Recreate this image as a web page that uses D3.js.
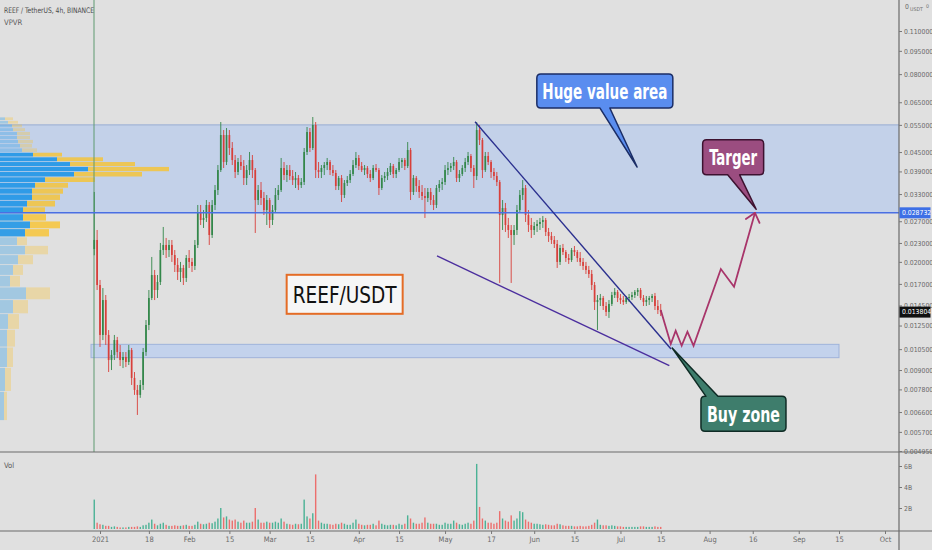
<!DOCTYPE html>
<html>
<head>
<meta charset="utf-8">
<script src="https://cdn.jsdelivr.net/npm/d3@7"></script>
<style>
  html, body { margin: 0; padding: 0; background: #e0e0e0; }
  svg { display: block; }
</style>
</head>
<body>
<div id="chart"></div>
<script>
// ---- data ----
var first_candle_day = "2020-12-30";
// daily candles [open, high, low, close] in USDT
var candles = [
  [0.02200,0.03351,0.02100,0.02351],[0.02351,0.02531,0.01625,0.01686],[0.01686,0.01750,0.01067,0.01166],
  [0.01166,0.01649,0.01123,0.01509],[0.01509,0.01566,0.01083,0.01166],[0.01166,0.01209,0.00887,0.00969],
  [0.00969,0.01043,0.00900,0.01006],[0.01006,0.01166,0.00969,0.01123],[0.01123,0.01149,0.00984,0.01028],
  [0.01028,0.01083,0.00927,0.00969],[0.00969,0.01028,0.00913,0.00991],[0.00991,0.01028,0.00920,0.00955],
  [0.00955,0.01083,0.00934,0.01043],[0.01043,0.01059,0.00806,0.00849],[0.00849,0.00887,0.00749,0.00777],
  [0.00777,0.00806,0.00646,0.00749],[0.00749,0.00836,0.00733,0.00806],[0.00806,0.01059,0.00777,0.01028],
  [0.01028,0.01302,0.00999,0.01255],[0.01255,0.01625,0.01209,0.01532],[0.01532,0.02074,0.01509,0.01815],
  [0.01815,0.01884,0.01509,0.01625],[0.01625,0.01815,0.01532,0.01724],[0.01724,0.02300,0.01686,0.02183],
  [0.02183,0.02588,0.02104,0.02266],[0.02266,0.02386,0.02058,0.02183],[0.02183,0.02351,0.02074,0.02266],
  [0.02266,0.02351,0.01999,0.02104],[0.02104,0.02183,0.01856,0.01955],[0.01955,0.02058,0.01750,0.01856],
  [0.01856,0.01999,0.01724,0.01912],[0.01912,0.01955,0.01686,0.01776],[0.01776,0.02104,0.01724,0.02058],
  [0.02058,0.02183,0.01912,0.01999],[0.01999,0.02058,0.01856,0.01941],[0.01941,0.02351,0.01884,0.02266],
  [0.02266,0.03044,0.02216,0.02891],[0.02891,0.03044,0.02626,0.02725],[0.02725,0.02933,0.02569,0.02766],
  [0.02766,0.03158,0.02685,0.03044],[0.03044,0.03112,0.02266,0.02439],[0.02439,0.03158,0.02386,0.03044],
  [0.03044,0.03528,0.02933,0.03400],[0.03400,0.04089,0.03277,0.03941],[0.03941,0.05618,0.03884,0.05103],
  [0.05103,0.05295,0.04000,0.04181],[0.04181,0.05374,0.04089,0.05103],[0.05103,0.05295,0.04403,0.04637],
  [0.04637,0.04846,0.04089,0.04243],[0.04243,0.04403,0.03715,0.03884],[0.03884,0.04307,0.03798,0.04181],
  [0.04181,0.04403,0.03941,0.04059],[0.04059,0.04243,0.03528,0.03715],[0.03715,0.04089,0.03528,0.03941],
  [0.03941,0.04502,0.03798,0.04243],[0.04243,0.04403,0.03715,0.03941],[0.03941,0.04000,0.02476,0.03158],
  [0.03158,0.03528,0.03044,0.03400],[0.03400,0.03607,0.03044,0.03206],[0.03206,0.03351,0.02827,0.02933],
  [0.02933,0.03277,0.02626,0.03158],[0.03158,0.03206,0.02569,0.02725],[0.02725,0.03044,0.02626,0.02933],
  [0.02933,0.03451,0.02891,0.03277],[0.03277,0.03528,0.03158,0.03400],[0.03400,0.04307,0.03351,0.04000],
  [0.04000,0.04181,0.03660,0.03798],[0.03798,0.04089,0.03607,0.03941],[0.03941,0.04089,0.03660,0.03770],
  [0.03770,0.03941,0.03528,0.03660],[0.03660,0.03884,0.03451,0.03715],[0.03715,0.03798,0.03400,0.03528],
  [0.03528,0.03715,0.03451,0.03607],[0.03607,0.04637,0.03528,0.04502],[0.04502,0.05414,0.04403,0.05218],
  [0.05218,0.05374,0.04502,0.04637],[0.04637,0.05829,0.04568,0.05494],[0.05494,0.05618,0.03715,0.03941],
  [0.03941,0.04181,0.03715,0.03884],[0.03884,0.04089,0.03715,0.04000],[0.04000,0.04181,0.03798,0.04089],
  [0.04089,0.04307,0.03941,0.04181],[0.04181,0.04243,0.03798,0.03941],[0.03941,0.04089,0.03770,0.03855],
  [0.03855,0.03941,0.03400,0.03502],[0.03502,0.03770,0.03400,0.03715],[0.03715,0.03798,0.03112,0.03277],
  [0.03277,0.03660,0.03206,0.03581],[0.03581,0.03770,0.03502,0.03660],[0.03660,0.03941,0.03581,0.03827],
  [0.03827,0.04243,0.03770,0.04089],[0.04089,0.04502,0.04000,0.04307],[0.04307,0.04403,0.03941,0.04059],
  [0.04059,0.04181,0.03884,0.03941],[0.03941,0.04089,0.03798,0.04000],[0.04000,0.04059,0.03715,0.03827],
  [0.03827,0.03941,0.03607,0.03715],[0.03715,0.04089,0.03660,0.04000],[0.04000,0.04120,0.03884,0.03941],
  [0.03941,0.04000,0.03277,0.03451],[0.03451,0.03798,0.03400,0.03715],[0.03715,0.03884,0.03607,0.03770],
  [0.03770,0.04000,0.03660,0.03884],[0.03884,0.04151,0.03798,0.04059],[0.04059,0.04120,0.03715,0.03827],
  [0.03827,0.04000,0.03715,0.03941],[0.03941,0.04307,0.03884,0.04181],[0.04181,0.04307,0.04000,0.04243],
  [0.04243,0.04307,0.03941,0.04059],[0.04059,0.04846,0.04000,0.04568],[0.04568,0.04637,0.03158,0.03351],
  [0.03351,0.03798,0.03277,0.03715],[0.03715,0.03770,0.03351,0.03502],[0.03502,0.03660,0.03206,0.03351],
  [0.03351,0.03528,0.03158,0.03253],[0.03253,0.03451,0.02766,0.03206],[0.03206,0.03451,0.03112,0.03351],
  [0.03351,0.03451,0.03044,0.03158],[0.03158,0.03277,0.02933,0.03044],[0.03044,0.03528,0.02977,0.03451],
  [0.03451,0.03660,0.03351,0.03554],[0.03554,0.03715,0.03400,0.03607],[0.03607,0.04089,0.03528,0.03941],
  [0.03941,0.04181,0.03798,0.04000],[0.04000,0.04151,0.03884,0.04059],[0.04059,0.04339,0.03941,0.04181],
  [0.04181,0.04243,0.03607,0.03715],[0.03715,0.03941,0.03607,0.03827],[0.03827,0.04089,0.03770,0.04000],
  [0.04000,0.04307,0.03884,0.04181],[0.04181,0.04502,0.04089,0.04371],[0.04371,0.04436,0.03884,0.04000],
  [0.04000,0.04089,0.03451,0.03770],[0.03770,0.05618,0.03660,0.05295],[0.05295,0.05494,0.04740,0.04918],
  [0.04918,0.04992,0.03715,0.03941],[0.03941,0.04502,0.03884,0.04371],[0.04371,0.04502,0.04089,0.04181],
  [0.04181,0.04243,0.03715,0.03884],[0.03884,0.04000,0.03660,0.03770],[0.03770,0.03884,0.03502,0.03607],
  [0.03607,0.03660,0.01712,0.02827],[0.02827,0.03158,0.02531,0.02977],[0.02977,0.03090,0.02494,0.02626],
  [0.02626,0.02766,0.02386,0.02531],[0.02531,0.02626,0.01712,0.02439],[0.02439,0.02626,0.02266,0.02531],
  [0.02531,0.03044,0.02439,0.02933],[0.02933,0.03400,0.02891,0.03277],[0.03277,0.03660,0.03158,0.03451],
  [0.03451,0.03528,0.02685,0.02827],[0.02827,0.02933,0.02494,0.02626],[0.02626,0.02766,0.02386,0.02531],
  [0.02531,0.02685,0.02439,0.02607],[0.02607,0.02725,0.02494,0.02646],[0.02646,0.02766,0.02531,0.02685],
  [0.02685,0.02807,0.02569,0.02725],[0.02725,0.02766,0.02421,0.02494],[0.02494,0.02569,0.02317,0.02421],
  [0.02421,0.02494,0.02283,0.02351],[0.02351,0.02421,0.02216,0.02283],[0.02283,0.02351,0.01912,0.01999],
  [0.01999,0.02266,0.01955,0.02216],[0.02216,0.02283,0.02104,0.02151],[0.02151,0.02183,0.01999,0.02058],
  [0.02058,0.02120,0.01970,0.02028],[0.02028,0.02216,0.01999,0.02183],[0.02183,0.02249,0.02089,0.02151],
  [0.02151,0.02183,0.01999,0.02058],[0.02058,0.02151,0.01941,0.01999],[0.01999,0.02058,0.01884,0.01941],
  [0.01941,0.01999,0.01829,0.01884],[0.01884,0.01941,0.01776,0.01829],[0.01829,0.01884,0.01625,0.01686],
  [0.01686,0.01724,0.01402,0.01487],[0.01487,0.01566,0.01209,0.01509],[0.01509,0.01578,0.01444,0.01532],
  [0.01532,0.01555,0.01402,0.01444],[0.01444,0.01487,0.01341,0.01382],[0.01382,0.01509,0.01322,0.01466],
  [0.01466,0.01602,0.01444,0.01566],[0.01566,0.01649,0.01532,0.01602],[0.01602,0.01625,0.01487,0.01532],
  [0.01532,0.01578,0.01466,0.01509],[0.01509,0.01555,0.01455,0.01487],[0.01487,0.01555,0.01466,0.01532],
  [0.01532,0.01578,0.01487,0.01543],[0.01543,0.01602,0.01509,0.01566],[0.01566,0.01625,0.01532,0.01602],
  [0.01602,0.01649,0.01555,0.01625],[0.01625,0.01649,0.01509,0.01532],[0.01532,0.01566,0.01444,0.01487],
  [0.01487,0.01555,0.01444,0.01509],[0.01509,0.01555,0.01455,0.01532],[0.01532,0.01578,0.01487,0.01555],
  [0.01555,0.01590,0.01402,0.01444],[0.01444,0.01509,0.01361,0.01402],[0.01402,0.01466,0.01341,0.01380]
];
// volume per candle, billions of REEF
var volumes = [
  2.8,0.6,0.45,0.4,0.3,0.3,0.2,0.25,0.2,0.15,
  0.15,0.15,0.2,0.2,0.2,0.25,0.2,0.35,0.4,0.6,
  0.9,0.5,0.35,0.5,0.6,0.4,0.3,0.3,0.35,0.3,
  0.3,0.35,0.4,0.3,0.3,0.4,0.7,0.5,0.45,0.5,
  0.6,0.55,0.7,1.0,2.0,1.1,1.2,0.9,0.8,0.9,
  0.7,0.6,0.8,0.6,0.6,0.7,2.0,0.9,0.6,0.6,
  0.7,0.6,0.6,0.7,0.6,1.0,0.7,0.5,0.45,0.4,
  0.5,0.45,0.5,2.8,1.2,1.0,1.5,5.2,0.8,0.6,
  0.5,0.5,0.45,0.4,0.5,0.45,0.6,0.5,0.4,0.4,
  0.6,0.9,0.5,0.4,0.35,0.4,0.4,0.5,0.35,0.8,
  0.5,0.4,0.35,0.4,0.4,0.35,0.5,0.4,0.5,1.3,
  1.0,0.6,0.5,0.5,0.6,1.1,0.6,0.5,0.5,0.5,
  0.4,0.4,0.6,0.5,0.5,0.8,0.6,0.45,0.4,0.5,
  0.6,0.5,0.8,6.2,2.1,1.0,0.8,0.6,0.6,0.5,
  0.6,1.7,1.0,0.8,0.7,1.3,0.8,1.0,1.7,1.6,
  0.9,0.7,0.6,0.5,0.5,0.45,0.4,0.45,0.4,0.35,
  0.35,0.5,0.45,0.35,0.3,0.3,0.3,0.25,0.25,0.3,
  0.25,0.25,0.3,0.4,0.6,0.9,0.4,0.35,0.35,0.3,
  0.35,0.3,0.25,0.25,0.2,0.2,0.2,0.2,0.2,0.2,
  0.25,0.25,0.2,0.2,0.2,0.25,0.2,0.2
];

// visible range volume profile, rows from low to high price
var vp_price_range = [0.0062, 0.0583];
var vp_up = [4,5,7,7,8,13,26,10,13,18,25,17,25,30,23,23,27,32,32,35,45,74,88,70,57,33,22,20,18,17,17,13,12,8,5];
var vp_down = [3,6,6,8,11,15,24,10,10,15,23,10,24,30,23,22,28,28,31,33,50,68,81,65,46,29,15,12,15,13,13,12,10,10,8];
var vp_value_rows = [12, 25];

var price_ticks = [0.11, 0.095, 0.08, 0.065, 0.055, 0.045, 0.039, 0.033, 0.027, 0.023, 0.02, 0.017,
                   0.0145, 0.0125, 0.0105, 0.009, 0.0078, 0.0066, 0.0057, 0.00495];
var time_ticks = ["2021-01-01","2021-01-18","2021-02-01","2021-02-15","2021-03-01","2021-03-15",
                  "2021-04-01","2021-04-15","2021-05-01","2021-05-17","2021-06-01","2021-06-15",
                  "2021-07-01","2021-07-15","2021-08-01","2021-08-16","2021-09-01","2021-09-15","2021-10-01"];
var time_labels = ["2021","18","Feb","15","Mar","15","Apr","15","May","17","Jun","15","Jul","15","Aug","16","Sep","15","Oct"];
var vol_ticks = [2, 4, 6];

var last_price = 0.013804;
var target_level = 0.028732;
var listing_time = "2020-12-29T22:00";
var value_zone = [0.055, 0.028732];
var buy_zone_dates = ["2020-12-28T21:00", "2021-09-15T00:00"];
var buy_zone_prices = [0.01088, 0.00986];

// drawings: [time, price]
var upper_line = [["2021-05-11T10:00", 0.05631], ["2021-07-18T14:00", 0.01051]];
var lower_line = [["2021-04-28T05:00", 0.02089], ["2021-07-18T00:00", 0.00929]];
var projection = [["2021-07-15T00:00", 0.01402], ["2021-07-18T12:00", 0.01091], ["2021-07-20T05:00", 0.01203],
                  ["2021-07-22T07:00", 0.01077], ["2021-07-24T07:00", 0.01194], ["2021-07-26T10:00", 0.01077],
                  ["2021-08-04T22:00", 0.01897], ["2021-08-09T12:00", 0.01665], ["2021-08-16T19:00", 0.02873]];
var callout_texts = ["Huge value area", "Targer", "Buy zone"];
var callout_boxes = [["2021-06-01T22:00", 0.0801], ["2021-07-29T14:00", 0.04925], ["2021-07-29T00:00", 0.00741]];
var callout_tips = [["2021-07-06T19:00", 0.0403], ["2021-08-17T05:00", 0.0295], ["2021-07-19T00:00", 0.01059]];
var label_text = "REEF/USDT";
var label_anchor = ["2021-03-06T22:00", 0.01818];

// ---- layout ----
var width = 932, height = 550;
var axis_x = 899;
var price_pane = {top: 0, bottom: 452};
var vol_pane = {top: 452, bottom: 531};
var narrow = "'Liberation Sans Narrow','DejaVu Sans Condensed','Arial Narrow',sans-serif";

var callout_style = [
    {w: 136, h: 34, fill: "#5a8def", stroke: "#1b2d66", side: "bottom", base: [63, 73], size: 21, len: 125},
    {w: 61, h: 35, fill: "#9b4d80", stroke: "#3d1230", side: "bottom", base: [25, 37], size: 21, len: 48},
    {w: 85, h: 35, fill: "#3e7d6c", stroke: "#0f2b25", side: "top", base: [5, 17], size: 22, len: 73}
];

var parse_day = d3.utcParse("%Y-%m-%d");
var parse_time = d3.utcParse("%Y-%m-%dT%H:%M");
function to_date(s){ return s.length > 10 ? parse_time(s) : parse_day(s); }

var x = d3.scaleUtc()
    .domain([to_date("2021-01-01"), to_date("2021-10-01")])
    .range([100, 885]);
var y = d3.scaleLog()
    .domain([0.11, 0.00495])
    .range([31, 451]);
var y_vol = d3.scaleLinear()
    .domain([0, 6])
    .range([529, 466]);

var svg = d3.select("#chart").append("svg")
    .attr("width", width)
    .attr("height", height)
    .style("font-family", narrow);

svg.append("rect").attr("width", width).attr("height", height).attr("fill", "#e0e0e0");

var defs = svg.append("defs");
defs.append("clipPath").attr("id", "clip_price").append("rect")
    .attr("x", 0).attr("y", price_pane.top).attr("width", axis_x).attr("height", price_pane.bottom - price_pane.top);
defs.append("clipPath").attr("id", "clip_vol").append("rect")
    .attr("x", 0).attr("y", vol_pane.top).attr("width", axis_x).attr("height", vol_pane.bottom - vol_pane.top);

var price_g = svg.append("g").attr("clip-path", "url(#clip_price)");

// value area rectangle
price_g.append("rect")
    .attr("x", 0).attr("width", axis_x)
    .attr("y", y(value_zone[0]))
    .attr("height", y(value_zone[1]) - y(value_zone[0]))
    .attr("fill", "#c3d1e9");
price_g.append("line")
    .attr("x1", 0).attr("x2", axis_x)
    .attr("y1", y(value_zone[0])).attr("y2", y(value_zone[0]))
    .attr("stroke", "#a3b5d6").attr("stroke-width", 1.2);

// buy zone rectangle
var bz_x0 = x(to_date(buy_zone_dates[0])), bz_x1 = x(to_date(buy_zone_dates[1]));
price_g.append("rect")
    .attr("x", bz_x0).attr("width", bz_x1 - bz_x0)
    .attr("y", y(buy_zone_prices[0]))
    .attr("height", y(buy_zone_prices[1]) - y(buy_zone_prices[0]))
    .attr("fill", "#c3d2ec")
    .attr("stroke", "#9fb3da").attr("stroke-width", 1);

// volume profile
var vp_rows = vp_up.length;
var vp_step = (vp_price_range[1] - vp_price_range[0]) / vp_rows;
var x_vp = d3.scaleLinear()
    .domain([0, d3.max(vp_up, function(u, i){ return u + vp_down[i]; })])
    .range([0, 169]);

var vp_g = price_g.append("g");
vp_up.forEach(function(u, i){
    var lo = vp_price_range[0] + vp_step * i;
    var top = y(lo + vp_step), bot = y(lo);
    var in_va = i >= vp_value_rows[0] && i <= vp_value_rows[1];
    var h = Math.max(bot - top - 0.8, 0.6);
    vp_g.append("rect")
        .attr("x", 0).attr("y", top + 0.4)
        .attr("width", x_vp(u)).attr("height", h)
        .attr("fill", in_va ? "rgba(21,146,230,0.85)" : "rgba(21,146,230,0.3)");
    vp_g.append("rect")
        .attr("x", x_vp(u)).attr("y", top + 0.4)
        .attr("width", x_vp(vp_down[i])).attr("height", h)
        .attr("fill", in_va ? "rgba(251,193,35,0.75)" : "rgba(251,193,35,0.3)");
});

// listing vertical line
price_g.append("line")
    .attr("x1", x(to_date(listing_time))).attr("x2", x(to_date(listing_time)))
    .attr("y1", price_pane.top).attr("y2", price_pane.bottom)
    .attr("stroke", "#5f9a70").attr("stroke-width", 1);

// candles
var start = to_date(first_candle_day);
var candle_data = candles.map(function(c, i){
    return {date: d3.utcDay.offset(start, i), o: c[0], h: c[1], l: c[2], c: c[3], v: volumes[i]};
});
var up_color = "#33874a", down_color = "#d83f3a";

var candle_g = price_g.append("g");
candle_g.selectAll("line")
    .data(candle_data)
    .join("line")
    .attr("x1", function(d){ return x(d.date); })
    .attr("x2", function(d){ return x(d.date); })
    .attr("y1", function(d){ return y(d.h); })
    .attr("y2", function(d){ return y(d.l); })
    .attr("stroke", function(d){ return d.c >= d.o ? up_color : down_color; })
    .attr("stroke-width", 0.9);
candle_g.selectAll("rect")
    .data(candle_data)
    .join("rect")
    .attr("x", function(d){ return x(d.date) - 0.85; })
    .attr("width", 1.7)
    .attr("y", function(d){ return y(Math.max(d.o, d.c)); })
    .attr("height", function(d){ return Math.max(1, Math.abs(y(d.o) - y(d.c))); })
    .attr("fill", function(d){ return d.c >= d.o ? up_color : down_color; });

// target horizontal line
price_g.append("line")
    .attr("x1", 0).attr("x2", axis_x)
    .attr("y1", y(target_level)).attr("y2", y(target_level))
    .attr("stroke", "#4a6fe3").attr("stroke-width", 1.5);

// wedge lines
var line_gen = d3.line()
    .x(function(d){ return x(to_date(d[0])); })
    .y(function(d){ return y(d[1]); });
price_g.append("path").attr("d", line_gen(upper_line))
    .attr("fill", "none").attr("stroke", "#2a2f8e").attr("stroke-width", 1.4);
price_g.append("path").attr("d", line_gen(lower_line))
    .attr("fill", "none").attr("stroke", "#4b2e9e").attr("stroke-width", 1.4);

// projected path with arrow head
var proj_color = "#a8356a";
price_g.append("path").attr("d", line_gen(projection))
    .attr("fill", "none").attr("stroke", proj_color).attr("stroke-width", 1.8)
    .attr("stroke-linejoin", "miter");
var p_end = projection[projection.length - 1], p_prev = projection[projection.length - 2];
var ex = x(to_date(p_end[0])), ey = y(p_end[1]);
var ang = Math.atan2(y(p_prev[1]) - ey, x(to_date(p_prev[0])) - ex);
[-0.7, 0.7].forEach(function(da){
    price_g.append("line")
        .attr("x1", ex).attr("y1", ey)
        .attr("x2", ex + 11 * Math.cos(ang + da)).attr("y2", ey + 11 * Math.sin(ang + da))
        .attr("stroke", proj_color).attr("stroke-width", 1.8).attr("stroke-linecap", "round");
});

// callouts
function callout_path(bx, by, s, tx, ty){
    var r = 4, w = s.w, h = s.h;
    var p = d3.path();
    p.moveTo(bx + r, by);
    if (s.side === "top"){
        p.lineTo(bx + s.base[0], by);
        p.lineTo(tx, ty);
        p.lineTo(bx + s.base[1], by);
    }
    p.lineTo(bx + w - r, by);
    p.quadraticCurveTo(bx + w, by, bx + w, by + r);
    p.lineTo(bx + w, by + h - r);
    p.quadraticCurveTo(bx + w, by + h, bx + w - r, by + h);
    if (s.side === "bottom"){
        p.lineTo(bx + s.base[1], by + h);
        p.lineTo(tx, ty);
        p.lineTo(bx + s.base[0], by + h);
    }
    p.lineTo(bx + r, by + h);
    p.quadraticCurveTo(bx, by + h, bx, by + h - r);
    p.lineTo(bx, by + r);
    p.quadraticCurveTo(bx, by, bx + r, by);
    p.closePath();
    return p.toString();
}

var annot_g = svg.append("g").attr("clip-path", "url(#clip_price)");
callout_texts.forEach(function(txt, i){
    var s = callout_style[i];
    var bx = x(to_date(callout_boxes[i][0])), by = y(callout_boxes[i][1]);
    var tx = x(to_date(callout_tips[i][0])), ty = y(callout_tips[i][1]);
    annot_g.append("path")
        .attr("d", callout_path(bx, by, s, tx, ty))
        .attr("fill", s.fill).attr("stroke", s.stroke).attr("stroke-width", 1.5)
        .attr("stroke-linejoin", "round");
    annot_g.append("text")
        .attr("x", bx + s.w / 2).attr("y", by + s.h / 2)
        .attr("dy", "0.36em")
        .attr("text-anchor", "middle")
        .attr("font-size", s.size).attr("font-weight", "bold")
        .attr("fill", "#ffffff")
        .attr("textLength", s.len).attr("lengthAdjust", "spacingAndGlyphs")
        .text(txt);
});

// REEF/USDT text box
var lx = x(to_date(label_anchor[0])), ly = y(label_anchor[1]);
annot_g.append("rect")
    .attr("x", lx).attr("y", ly).attr("width", 116).attr("height", 39)
    .attr("fill", "#f6f6f6").attr("stroke", "#e46c26").attr("stroke-width", 2);
annot_g.append("text")
    .attr("x", lx + 58).attr("y", ly + 19.5).attr("dy", "0.36em")
    .attr("text-anchor", "middle")
    .attr("font-size", 23).attr("fill", "#111")
    .attr("textLength", 104).attr("lengthAdjust", "spacingAndGlyphs")
    .text(label_text);

// volume pane
var vol_g = svg.append("g").attr("clip-path", "url(#clip_vol)");
vol_g.selectAll("rect")
    .data(candle_data)
    .join("rect")
    .attr("x", function(d){ return x(d.date) - 0.7; })
    .attr("width", 1.4)
    .attr("y", function(d){ return y_vol(d.v); })
    .attr("height", function(d){ return y_vol(0) - y_vol(d.v); })
    .attr("fill", function(d){ return d.c >= d.o ? "rgba(38,166,130,0.8)" : "rgba(239,83,80,0.8)"; });

// pane separators and axis line
svg.append("line").attr("x1", 0).attr("x2", width).attr("y1", price_pane.bottom).attr("y2", price_pane.bottom)
    .attr("stroke", "#6a6a6a").attr("stroke-width", 1.2);
svg.append("line").attr("x1", 0).attr("x2", width).attr("y1", vol_pane.bottom).attr("y2", vol_pane.bottom)
    .attr("stroke", "#6a6a6a").attr("stroke-width", 1.2);
svg.append("line").attr("x1", axis_x).attr("x2", axis_x).attr("y1", 0).attr("y2", height)
    .attr("stroke", "#6a6a6a").attr("stroke-width", 1.2);

// price axis
var fmt = d3.format(".6f");
var price_axis = svg.append("g")
    .attr("transform", "translate(" + axis_x + ",0)")
    .call(d3.axisRight(y).tickValues(price_ticks).tickFormat(fmt).tickSize(3).tickPadding(2));
price_axis.select(".domain").remove();
price_axis.selectAll("line").attr("stroke", "#777");
price_axis.selectAll("text").attr("fill", "#6a6a6a").attr("font-size", 6.8).attr("font-family", narrow);

// top currency label
svg.append("text").attr("x", 905).attr("y", 9).attr("font-size", 6.8).attr("fill", "#6a6a6a").text("0");
svg.append("text").attr("x", 910).attr("y", 10.5).attr("font-size", 5.2).attr("fill", "#6a6a6a").text("USDT");
svg.append("text").attr("x", 926).attr("y", 8).attr("font-size", 5.2).attr("fill", "#6a6a6a").text("0");

// price labels on the axis
function axis_badge(price, fill){
    var yy = y(price);
    svg.append("rect").attr("x", axis_x + 0.5).attr("y", yy - 5.5).attr("width", 31).attr("height", 11)
        .attr("fill", fill);
    svg.append("text").attr("x", axis_x + 3).attr("y", yy).attr("dy", "0.35em")
        .attr("font-size", 6.8).attr("fill", "#ffffff").text(fmt(price));
}
axis_badge(target_level, "#3d6fe6");
axis_badge(last_price, "#111111");

// volume axis
var vol_axis = svg.append("g")
    .attr("transform", "translate(" + axis_x + ",0)")
    .call(d3.axisRight(y_vol).tickValues(vol_ticks).tickFormat(function(d){ return d + "B"; }).tickSize(3).tickPadding(2));
vol_axis.select(".domain").remove();
vol_axis.selectAll("line").attr("stroke", "#777");
vol_axis.selectAll("text").attr("fill", "#6a6a6a").attr("font-size", 6.8).attr("font-family", narrow);

// time axis
var time_axis = svg.append("g")
    .attr("transform", "translate(0," + vol_pane.bottom + ")")
    .call(d3.axisBottom(x).tickValues(time_ticks.map(to_date))
        .tickFormat(function(d, i){ return time_labels[i]; }).tickSize(3).tickPadding(3));
time_axis.select(".domain").remove();
time_axis.selectAll("line").attr("stroke", "#777");
time_axis.selectAll("text").attr("fill", "#6a6a6a").attr("font-size", 7.5).attr("font-family", narrow);

// titles
svg.append("text").attr("x", 4).attr("y", 13).attr("font-size", 7.6).attr("fill", "#4a4a4a")
    .attr("textLength", 90).attr("lengthAdjust", "spacingAndGlyphs")
    .text("REEF / TetherUS, 4h, BINANCE");
svg.append("text").attr("x", 4).attr("y", 24.5).attr("font-size", 7.6).attr("fill", "#5a5a5a")
    .text("VPVR");
svg.append("text").attr("x", 4).attr("y", 468).attr("font-size", 7.6).attr("fill", "#5a5a5a")
    .text("Vol");
</script>
</body>
</html>
